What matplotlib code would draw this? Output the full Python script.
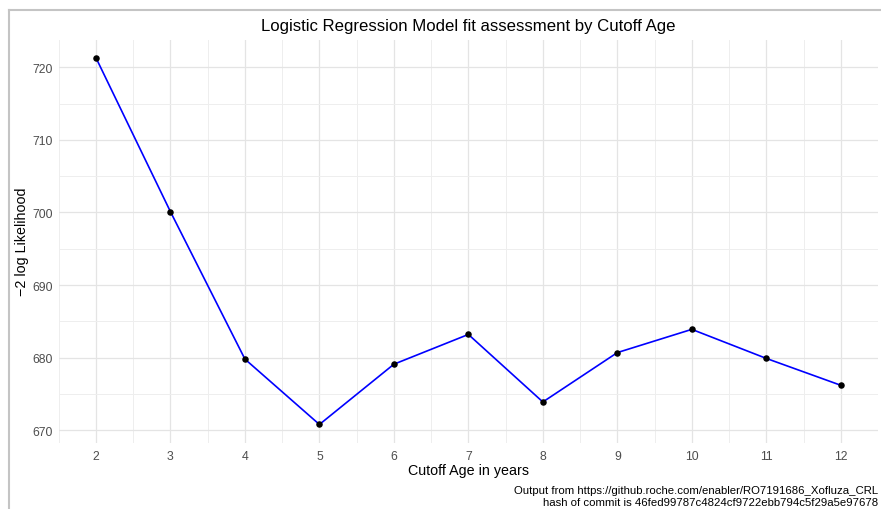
import matplotlib
matplotlib.use('Agg')
import matplotlib.pyplot as plt
from matplotlib.lines import Line2D
from matplotlib.ticker import MultipleLocator

# -2 log likelihood of the logistic model for each cutoff age
cutoff_age = [2, 3, 4, 5, 6, 7, 8, 9, 10, 11, 12]
neg2_loglik = [721.3, 700.1, 679.8, 670.8, 679.1, 683.2, 673.9, 680.7, 683.9, 679.9, 676.2]

y_ticks = [670, 680, 690, 700, 710, 720]
caption = ('Output from https://github.roche.com/enabler/RO7191686_Xofluza_CRL\n'
           'hash of commit is 46fed99787c4824cf9722ebb794c5f29a5e97678')

plt.rcParams['font.family'] = ['Liberation Sans', 'DejaVu Sans']

W, H = 881, 510
fig = plt.figure(figsize=(W / 100, H / 100), dpi=100)
ax = fig.add_axes([58.75 / W, (H - 443.8) / H, (878 - 58.75) / W, (443.8 - 40.5) / H])

ax.plot(cutoff_age, neg2_loglik, color='#0000ff', lw=1.2, zorder=3)
ax.scatter(cutoff_age, neg2_loglik, s=22, color='black', zorder=4, linewidths=0)

# ggplot-like expansion: 0.5 units on x, 5% on y
ax.set_xlim(1.5, 12.5)
lo, hi = min(neg2_loglik), max(neg2_loglik)
pad = (hi - lo) * 0.05
ax.set_ylim(lo - pad, hi + pad)

ax.set_xticks(cutoff_age)
ax.set_yticks(y_ticks)
ax.xaxis.set_minor_locator(MultipleLocator(0.5))
ax.yaxis.set_minor_locator(MultipleLocator(5))

ax.grid(which='major', color='#e4e4e4', lw=0.9)
ax.grid(which='minor', color='#eeeeee', lw=0.7)
ax.set_axisbelow(True)
for s in ax.spines.values():
    s.set_visible(False)
ax.tick_params(which='both', length=0)
ax.tick_params(axis='both', labelsize=8.8, labelcolor='#4d4d4d')
ax.tick_params(axis='x', pad=5)
ax.tick_params(axis='y', pad=4)

ax.set_xlabel('Cutoff Age in years', fontsize=10.3, labelpad=1)
ax.set_ylabel('\u22122 log Likelihood', fontsize=10.3, labelpad=3)
ax.set_title('Logistic Regression Model fit assessment by Cutoff Age', fontsize=12.1, pad=7)

fig.text(878 / W, 1 - 486 / H, caption, ha='right', va='top', fontsize=8.2, linespacing=1.3)

# frame on the top and left edge
fig.add_artist(Line2D([9 / W, 1], [1 - 11 / H, 1 - 11 / H], color='#c4c4c4', lw=1.5))
fig.add_artist(Line2D([9 / W, 9 / W], [0, 1 - 11 / H], color='#c4c4c4', lw=1.5))

fig.savefig('out.png', dpi=100)
